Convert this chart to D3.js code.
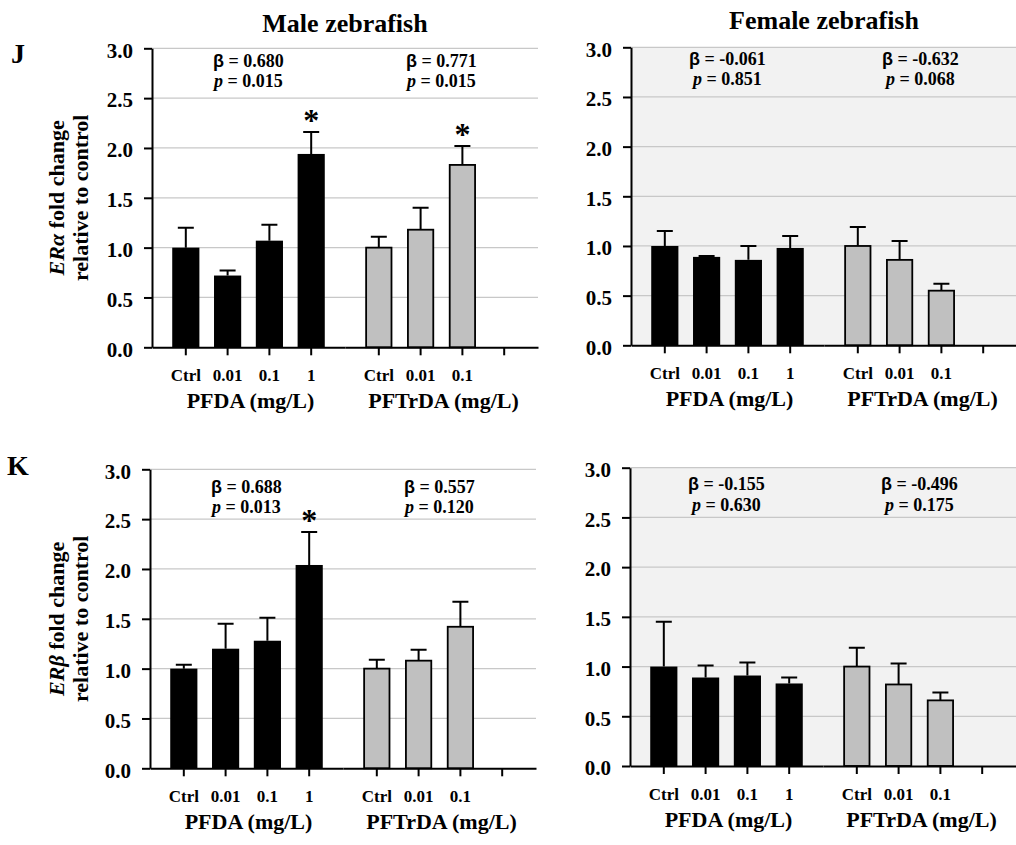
<!DOCTYPE html>
<html><head><meta charset="utf-8">
<script src="https://cdn.jsdelivr.net/npm/d3@7"></script>
<style>
body{margin:0;background:#fff}
svg{display:block}
svg text{font-family:"Liberation Serif","Times New Roman",Times,serif;font-weight:bold}
svg tspan.sans{font-family:"Liberation Sans",Arial,sans-serif}
svg tspan.it{font-style:italic}
</style>
</head><body>
<svg id="chart" width="1016" height="845"></svg>
<script>
// ---------------- data ----------------
const groupLabels = ["PFDA (mg/L)", "PFTrDA (mg/L)"];
const pfdaDoses = ["Ctrl", "0.01", "0.1", "1"];
const pftrdaDoses = ["Ctrl", "0.01", "0.1", ""];   // last slot is empty
const yTicks = [0, 0.5, 1.0, 1.5, 2.0, 2.5, 3.0];
const sexTitles = ["Male zebrafish", "Female zebrafish"];
const genes = ["ERα", "ERβ"];
const rowLetters = ["J", "K"];

// ERα, male
const maleERaPFDA = [1.00, 0.72, 1.07, 1.94];
const maleERaPFDAsem = [0.20, 0.05, 0.16, 0.22];
const maleERaPFDAsig = [false, false, false, true];
const maleERaPFTrDA = [1.00, 1.18, 1.83];
const maleERaPFTrDAsem = [0.11, 0.22, 0.19];
const maleERaPFTrDAsig = [false, false, true];
// ERα, female
const femaleERaPFDA = [1.00, 0.89, 0.86, 0.98];
const femaleERaPFDAsem = [0.15, 0.01, 0.14, 0.12];
const femaleERaPFTrDA = [1.00, 0.86, 0.55];
const femaleERaPFTrDAsem = [0.19, 0.19, 0.07];
// ERβ, male
const maleERbPFDA = [1.00, 1.20, 1.28, 2.04];
const maleERbPFDAsem = [0.04, 0.25, 0.23, 0.33];
const maleERbPFDAsig = [false, false, false, true];
const maleERbPFTrDA = [1.00, 1.08, 1.42];
const maleERbPFTrDAsem = [0.09, 0.11, 0.25];
// ERβ, female
const femaleERbPFDA = [1.00, 0.89, 0.91, 0.83];
const femaleERbPFDAsem = [0.45, 0.12, 0.13, 0.06];
const femaleERbPFTrDA = [1.00, 0.82, 0.66];
const femaleERbPFTrDAsem = [0.19, 0.21, 0.08];

// regression statistics [PFDA, PFTrDA]
const maleERaBeta = ["0.680", "0.771"], maleERaP = ["0.015", "0.015"];
const femaleERaBeta = ["-0.061", "-0.632"], femaleERaP = ["0.851", "0.068"];
const maleERbBeta = ["0.688", "0.557"], maleERbP = ["0.013", "0.120"];
const femaleERbBeta = ["-0.155", "-0.496"], femaleERbP = ["0.630", "0.175"];

// ---------------- drawing ----------------
const svg = d3.select("#chart");
const none = [false, false, false, false];

const panels = [
  {row:0, sex:0, x0:152, yTop:48.3, yBot:347.3, titleY:31.5, statDy:[18.4,39],
   groups:[{v:maleERaPFDA, e:maleERaPFDAsem, s:maleERaPFDAsig},{v:maleERaPFTrDA, e:maleERaPFTrDAsem, s:maleERaPFTrDAsig}],
   beta:maleERaBeta, p:maleERaP},
  {row:0, sex:1, x0:631, yTop:47.3, yBot:345.3, titleY:28.5, statDy:[17.7,37.7],
   groups:[{v:femaleERaPFDA, e:femaleERaPFDAsem, s:none},{v:femaleERaPFTrDA, e:femaleERaPFTrDAsem, s:none}],
   beta:femaleERaBeta, p:femaleERaP},
  {row:1, sex:0, x0:150, yTop:469.3, yBot:768.3, statDy:[24,44],
   groups:[{v:maleERbPFDA, e:maleERbPFDAsem, s:maleERbPFDAsig},{v:maleERbPFTrDA, e:maleERbPFTrDAsem, s:none}],
   beta:maleERbBeta, p:maleERbP},
  {row:1, sex:1, x0:630, yTop:467.7, yBot:766, statDy:[22.3,43],
   groups:[{v:femaleERbPFDA, e:femaleERbPFDAsem, s:none},{v:femaleERbPFTrDA, e:femaleERbPFTrDAsem, s:none}],
   beta:femaleERbBeta, p:femaleERbP}
];

const W = 386, half = W / 2;

panels.forEach(P => {
  const g = svg.append("g");
  const y = d3.scaleLinear().domain([0, 3]).range([P.yBot, P.yTop]);
  const x0 = P.x0, x1 = P.x0 + W;

  if (P.sex === 1) {
    g.append("rect").attr("x", x0).attr("y", y(3)).attr("width", W)
      .attr("height", y(0) - y(3)).attr("fill", "#f2f2f2");
  }
  // gridlines
  g.selectAll("line.grid").data(yTicks.filter(t => t > 0)).join("line")
    .attr("class", "grid")
    .attr("x1", x0).attr("x2", x1)
    .attr("y1", d => y(d)).attr("y2", d => y(d))
    .attr("stroke", "#c8c8c8").attr("stroke-width", 1.2);

  // title
  if (P.row === 0) {
    g.append("text").attr("x", x0 + W / 2).attr("y", P.titleY)
      .attr("text-anchor", "middle").style("font-size", "26px").text(sexTitles[P.sex]);
  }
  // row letter + y label
  if (P.sex === 0) {
    g.append("text").attr("x", P.row === 0 ? 11 : 7).attr("y", P.row === 0 ? 63 : 475)
      .style("font-size", "28px").text(rowLetters[P.row]);
    const mid = (P.yTop + P.yBot) / 2;
    const t1 = g.append("text").attr("transform", `translate(64,${mid}) rotate(-90)`)
      .attr("text-anchor", "middle").style("font-size", "22px");
    t1.append("tspan").attr("class", "it").text(genes[P.row]);
    t1.append("tspan").text(" fold change");
    g.append("text").attr("transform", `translate(88,${mid}) rotate(-90)`)
      .attr("text-anchor", "middle").style("font-size", "22px").text("relative to control");
  }

  P.groups.forEach((G, gi) => {
    const doses = gi === 0 ? pfdaDoses : pftrdaDoses;
    const xb = d3.scaleBand().domain(doses)
      .range([x0 + gi * half, x0 + (gi + 1) * half])
      .paddingInner(0.35).paddingOuter(0.484);
    const bw = xb.bandwidth();
    const data = G.v.map((v, i) => ({dose: doses[i], v, e: G.e[i], s: G.s[i]}));
    const gray = gi === 1;

    // bars
    g.selectAll(null).data(data).join("rect")
      .attr("x", d => xb(d.dose) + (gray ? 0.9 : 0))
      .attr("width", bw - (gray ? 1.8 : 0))
      .attr("y", d => y(d.v))
      .attr("height", d => y(0) - y(d.v))
      .attr("fill", gray ? "#c0c0c0" : "#000")
      .attr("stroke", gray ? "#000" : "none")
      .attr("stroke-width", 1.8);
    // error bars
    g.selectAll(null).data(data).join("path")
      .attr("d", d => {
        const cx = xb(d.dose) + bw / 2;
        return `M${cx},${y(d.v)}V${y(d.v + d.e)}M${cx - 8},${y(d.v + d.e)}H${cx + 8}`;
      })
      .attr("stroke", "#000").attr("stroke-width", 2).attr("fill", "none");
    // significance
    g.selectAll(null).data(data.filter(d => d.s)).join("text")
      .attr("x", d => xb(d.dose) + bw / 2)
      .attr("y", d => y(d.v + d.e) - 1)
      .attr("text-anchor", "middle").style("font-size", "32px").text("*");

    // x axis
    const ax = g.append("g").attr("transform", `translate(0,${y(0)})`)
      .call(d3.axisBottom(xb).tickSize(8).tickSizeOuter(0));
    ax.select(".domain").attr("stroke-width", 2);
    ax.selectAll(".tick line").attr("stroke-width", 2);
    ax.selectAll(".tick text").attr("y", 34).attr("dy", null).style("font-size", "17px");

    const cx = x0 + gi * half + half / 2;
    g.append("text").attr("x", cx + 2).attr("y", y(0) + 61)
      .attr("text-anchor", "middle").style("font-size", "22px").text(groupLabels[gi]);

    // stats
    const s1 = g.append("text").attr("x", cx).attr("y", y(3) + P.statDy[0])
      .attr("text-anchor", "middle").style("font-size", "18px");
    s1.append("tspan").attr("class", "sans").text("β");
    s1.append("tspan").text(" = " + P.beta[gi]);
    const s2 = g.append("text").attr("x", cx).attr("y", y(3) + P.statDy[1])
      .attr("text-anchor", "middle").style("font-size", "18px");
    s2.append("tspan").attr("class", "it").text("p");
    s2.append("tspan").text(" = " + P.p[gi]);
  });

  // y axis
  const ay = g.append("g").attr("transform", `translate(${x0},0)`)
    .call(d3.axisLeft(y).tickValues(yTicks).tickSize(8).tickSizeOuter(0)
      .tickPadding(11).tickFormat(d3.format(".1f")));
  ay.select(".domain").attr("stroke-width", 2);
  ay.selectAll(".tick line").attr("stroke-width", 2);
  ay.selectAll(".tick text").attr("dy", "0.42em").style("font-size", "21px");
});
</script>
</body></html>
